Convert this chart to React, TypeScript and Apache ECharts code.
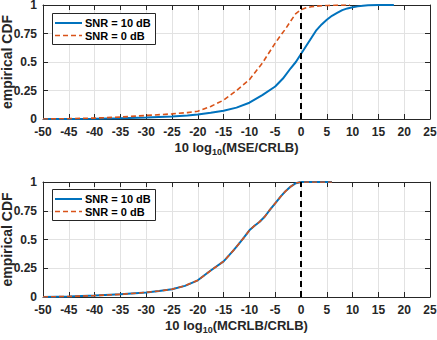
import React, { useEffect, useRef } from "react";
import * as echarts from "echarts";

// Top panel: 10 log10(MSE/CRLB)
const mseX10 = [-50, -45, -40, -35, -30, -25, -22, -20, -17.5, -15, -12.5, -10, -7.5, -5, -3.5, -2, -1, 0, 1, 2, 3, 4, 5, 6, 7, 8, 9, 10, 11, 12, 13, 15, 18];
const mseY10 = [0, 0.001, 0.003, 0.006, 0.013, 0.023, 0.031, 0.04, 0.055, 0.073, 0.1, 0.143, 0.21, 0.285, 0.355, 0.445, 0.5, 0.57, 0.64, 0.71, 0.78, 0.83, 0.87, 0.905, 0.93, 0.955, 0.97, 0.98, 0.988, 0.994, 0.997, 0.999, 1];
const mseX0 = [-50, -45, -40, -35, -30, -25, -22, -20, -17.5, -15, -12.5, -10, -7.5, -5, -4, -3, -2, -1, 0, 1, 2, 3, 5, 7, 9.5];
const mseY0 = [0, 0.003, 0.008, 0.017, 0.031, 0.045, 0.056, 0.068, 0.11, 0.165, 0.25, 0.345, 0.49, 0.665, 0.73, 0.79, 0.86, 0.925, 0.958, 0.975, 0.985, 0.99, 0.996, 0.999, 1];

// Bottom panel: 10 log10(MCRLB/CRLB)
const mcrlbX10 = [-50, -45, -40, -35, -30, -27.5, -25, -22.5, -20, -17.5, -15, -14, -13, -12, -11, -10, -9, -8, -7, -6, -5, -4, -3, -2, -1, 0, 6];
const mcrlbY10 = [0, 0.005, 0.012, 0.023, 0.04, 0.052, 0.067, 0.097, 0.145, 0.23, 0.31, 0.36, 0.41, 0.465, 0.52, 0.58, 0.62, 0.655, 0.7, 0.76, 0.815, 0.87, 0.92, 0.96, 0.99, 1, 1];
const mcrlbX0 = [-50, -45, -40, -35, -30, -27.5, -25, -22.5, -20, -17.5, -15, -14, -13, -12, -11, -10, -9, -8, -7, -6, -5, -4, -3, -2, -1, 0, 6];
const mcrlbY0 = [0, 0.005, 0.012, 0.023, 0.04, 0.052, 0.067, 0.097, 0.145, 0.23, 0.31, 0.36, 0.41, 0.465, 0.52, 0.58, 0.62, 0.655, 0.7, 0.76, 0.815, 0.87, 0.92, 0.96, 0.99, 1, 1];

const seriesNames = ["SNR = 10 dB", "SNR = 0 dB"];
const xLabelTop = ["10 log", "10", "(MSE/CRLB)"];
const xLabelBottom = ["10 log", "10", "(MCRLB/CRLB)"];
const yLabel = "empirical CDF";

const BLUE = "#0072BD";
const ORANGE = "#D95319";
const AX = "#262626";
const FONT = "'Liberation Sans', Arial, Helvetica, sans-serif";

const zip = (xs: number[], ys: number[]) => xs.map((x, i) => [x, ys[i]]);

function legendGraphic(top: number): any[] {
  const left = 52;
  const w = 103;
  const h = 31;
  const r1 = top + 10;
  const r2 = top + 22.5;
  const txt = (t: string, y: number) => ({
    type: "text", z: 101, x: left + 33, y,
    style: { text: t, fill: "#000", fontSize: 11, fontWeight: "bold", fontFamily: FONT, verticalAlign: "middle", align: "left" },
  });
  return [
    { type: "rect", z: 100, shape: { x: left + 0.5, y: top + 0.5, width: w, height: h }, style: { fill: "#fff", stroke: AX, lineWidth: 1 } },
    { type: "line", z: 101, shape: { x1: left + 3, y1: r1, x2: left + 30, y2: r1 }, style: { stroke: BLUE, lineWidth: 2 } },
    { type: "line", z: 101, shape: { x1: left + 3, y1: r2, x2: left + 30, y2: r2 }, style: { stroke: ORANGE, lineWidth: 1.6, lineDash: [5, 3] } },
    txt(seriesNames[0], r1),
    txt(seriesNames[1], r2),
  ];
}

export default function App() {
  const ref = useRef<HTMLDivElement>(null);
  useEffect(() => {
    if (!ref.current) return;
    const chart = echarts.init(ref.current, undefined, { renderer: "svg" });
    const grids = [
      { left: 43, width: 387, top: 5, height: 114, containLabel: false, outerBoundsMode: "none" },
      { left: 43, width: 387, top: 182, height: 115, containLabel: false, outerBoundsMode: "none" },
    ];
    const xAxes: any[] = [];
    const yAxes: any[] = [];
    const xl = [xLabelTop, xLabelBottom];
    grids.forEach((_, g) => {
      const lab = xl[g];
      xAxes.push({
        gridIndex: g, type: "value", position: "bottom", min: -50, max: 25, interval: 5,
        axisLine: { show: true, onZero: false, lineStyle: { color: AX, width: 1 } },
        axisTick: { show: true, inside: true, length: 5, lineStyle: { color: AX } },
        axisLabel: { show: true, margin: 7, color: AX, fontSize: 12, fontWeight: "bold", fontFamily: FONT },
        splitLine: { show: true, lineStyle: { color: "#e2e2e2", width: 1 } },
        name: `{a|${lab[0]}}{b|${lab[1]}}{a|${lab[2]}}`,
        nameLocation: "middle", nameGap: 20, nameMoveOverlap: false,
        nameTextStyle: {
          rich: {
            a: { fontSize: 13, fontWeight: "bold", color: AX, fontFamily: FONT },
            b: { fontSize: 9, fontWeight: "bold", color: AX, fontFamily: FONT, padding: [8, 0, 0, 0] },
          },
        },
      });
      xAxes.push({
        gridIndex: g, type: "value", position: "top", min: -50, max: 25, interval: 5,
        axisLine: { show: true, onZero: false, lineStyle: { color: AX, width: 1 } },
        axisTick: { show: true, inside: true, length: 5, lineStyle: { color: AX } },
        axisLabel: { show: false }, splitLine: { show: false },
      });
      yAxes.push({
        gridIndex: g, type: "value", position: "left", min: 0, max: 1, interval: 0.25,
        axisLine: { show: true, onZero: false, lineStyle: { color: AX, width: 1 } },
        axisTick: { show: true, inside: true, length: 5, lineStyle: { color: AX } },
        axisLabel: { show: true, margin: 6, color: AX, fontSize: 12, fontWeight: "bold", fontFamily: FONT },
        splitLine: { show: true, lineStyle: { color: "#e2e2e2", width: 1 } },
        name: yLabel, nameLocation: "middle", nameGap: 29, nameRotate: 90, nameMoveOverlap: false,
        nameTextStyle: { fontSize: 14, fontWeight: "bold", color: AX, fontFamily: FONT },
      });
      yAxes.push({
        gridIndex: g, type: "value", position: "right", min: 0, max: 1, interval: 0.25,
        axisLine: { show: true, onZero: false, lineStyle: { color: AX, width: 1 } },
        axisTick: { show: true, inside: true, length: 5, lineStyle: { color: AX } },
        axisLabel: { show: false }, splitLine: { show: false },
      });
    });

    const data = [
      [zip(mseX10, mseY10), zip(mseX0, mseY0)],
      [zip(mcrlbX10, mcrlbY10), zip(mcrlbX0, mcrlbY0)],
    ];
    const series: any[] = [];
    grids.forEach((_, g) => {
      series.push({
        name: "zero" + g, type: "line", xAxisIndex: g * 2, yAxisIndex: g * 2,
        data: [[0, 0], [0, 1]], symbol: "none", silent: true,
        lineStyle: { color: "#000", width: 2, type: [6, 4] }, z: 3,
      });
      series.push({
        name: seriesNames[0], type: "line", xAxisIndex: g * 2, yAxisIndex: g * 2,
        data: data[g][0], symbol: "none", color: BLUE,
        lineStyle: { color: BLUE, width: 2 }, z: 2,
      });
      series.push({
        name: seriesNames[1], type: "line", xAxisIndex: g * 2, yAxisIndex: g * 2,
        data: data[g][1], symbol: "none", color: ORANGE,
        lineStyle: { color: ORANGE, width: 1.6, type: [5, 3] }, z: 2,
      });
    });

    chart.setOption({
      animation: false,
      backgroundColor: "#fff",
      grid: grids,
      xAxis: xAxes,
      yAxis: yAxes,
      series,
      graphic: [...legendGraphic(13), ...legendGraphic(189)],
    });
    return () => chart.dispose();
  }, []);
  return <div ref={ref} style={{ position: "fixed", left: 0, top: 0, width: 437, height: 340 }} />;
}
